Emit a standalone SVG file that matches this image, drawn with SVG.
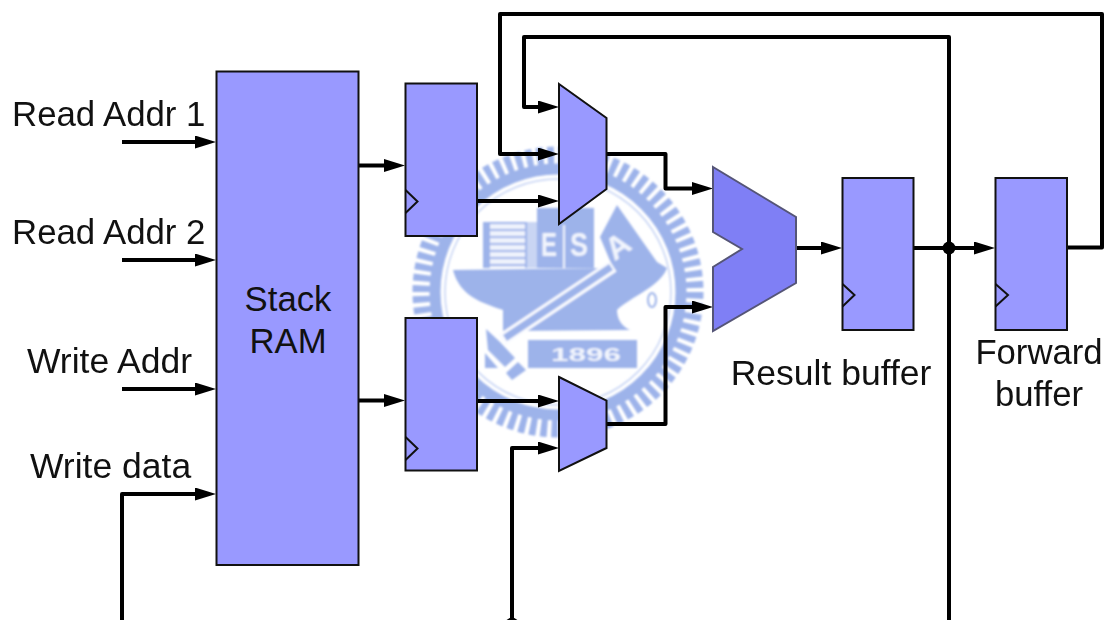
<svg xmlns="http://www.w3.org/2000/svg" width="1108" height="620" viewBox="0 0 1108 620">
<style>
text{font-family:"Liberation Sans",Arial,sans-serif;font-size:35.500px;fill:#111}
.r{font-size:34.800px}
.s{font-size:34.700px}
.box{fill:#9999ff;stroke:#111;stroke-width:2}
.clk{fill:none;stroke:#111;stroke-width:2}
.w{fill:none;stroke:#000;stroke-width:4;stroke-linejoin:round}
.a{marker-end:url(#ah)}
.wm{fill:#9db3ea}
</style>
<defs>
<marker id="ah" markerUnits="userSpaceOnUse" markerWidth="22" markerHeight="14" refX="13" refY="6.500" orient="auto"><path d="M0,0L21,6.500L0,13z" fill="#000"/></marker>
<filter id="soft" x="-5%" y="-5%" width="110%" height="110%"><feGaussianBlur stdDeviation="1"/></filter>
<filter id="soft2" x="-5%" y="-5%" width="110%" height="110%"><feGaussianBlur stdDeviation="0.5"/></filter>
</defs>
<rect width="1108" height="620" fill="#fff"/>
<g id="watermark" filter="url(#soft)">
<circle cx="558" cy="292" r="136" fill="none" stroke="#9db3ea" stroke-width="19" stroke-dasharray="6.500 4.180"/>
<circle cx="558" cy="292" r="123" fill="none" stroke="#9db3ea" stroke-width="11"/>
<circle cx="558" cy="292" r="113" fill="none" stroke="#c6d3f4" stroke-width="1.500"/>
<path class="wm" d="M453,270L613,268L600,237L617,205L657,262L667,268C660,287 630,297 617,310C617,320 623,327 630,330L503,331L503,310C483,303 460,297 453,270z"/>
<rect class="wm" x="483" y="222" width="44" height="46"/>
<rect x="490" y="224" width="35" height="44" fill="#eef2fc"/>
<g fill="#9db3ea"><rect x="490" y="229" width="35" height="2"/><rect x="490" y="236" width="35" height="2"/><rect x="490" y="243" width="35" height="2"/><rect x="490" y="250" width="35" height="2"/><rect x="490" y="257" width="35" height="2"/><rect x="490" y="264" width="35" height="2"/></g>
<rect class="wm" x="527" y="222" width="10" height="46" opacity=".55"/>
<rect class="wm" x="537" y="208" width="57" height="60"/>
<rect x="563" y="225" width="2" height="43" fill="#eef2fc"/>
<text x="549" y="256" text-anchor="middle" style="font-size:33px;fill:#f2f5fd;font-weight:bold" textLength="16" lengthAdjust="spacingAndGlyphs">E</text>
<text x="579" y="256" text-anchor="middle" style="font-size:33px;fill:#f2f5fd;font-weight:bold" textLength="18" lengthAdjust="spacingAndGlyphs">S</text>
<text transform="translate(624 255) rotate(-35)" text-anchor="middle" style="font-size:32px;fill:#f2f5fd;font-weight:bold">A</text>
<path d="M613,266L502,340" stroke="#fbfcff" stroke-width="13" fill="none"/>
<path d="M611,267L505,338" stroke="#9db3ea" stroke-width="7" fill="none"/>
<path class="wm" d="M486,329L500,342L515,358L505,367L488,350z"/>
<path class="wm" d="M485,353L498,368L485,368z"/>
<path class="wm" d="M518,362L526,370L512,380L506,373z"/>
<rect class="wm" x="528" y="340" width="109" height="28"/>
<text x="586" y="361" text-anchor="middle" style="font-size:19px;fill:#f2f5fd;font-weight:bold" textLength="70" lengthAdjust="spacingAndGlyphs">1896</text>
<ellipse cx="652" cy="300" rx="4" ry="7" fill="none" stroke="#9db3ea" stroke-width="2"/>
</g>
<g id="connectors">
<path class="w a" d="M122,142H208"/>
<path class="w a" d="M122,260H208"/>
<path class="w a" d="M122,389H208"/>
<path class="w a" d="M122,620V494H208"/>
<path class="w a" d="M358,165.500H397"/>
<path class="w a" d="M358,400.500H397"/>
<path class="w a" d="M1067,247.500H1102V14H500V154H551"/>
<path class="w a" d="M949,620V37H524V107H551"/>
<path class="w a" d="M477,201H551"/>
<path class="w a" d="M477,401H551"/>
<path class="w a" d="M512,620V448H551"/>
<path class="w a" d="M606,154H665.500V188.500H705"/>
<path class="w a" d="M606,424H665.500V307H705"/>
<path class="w a" d="M796,248H834"/>
<path class="w a" d="M913,248H987"/>
<circle cx="949" cy="248" r="6.500" fill="#000"/>
<circle cx="512" cy="623.500" r="6" fill="#000"/>
</g>
<g id="stack-ram"><rect class="box" x="216.500" y="71.500" width="142" height="493.500"/><text class="s" x="288" y="311" text-anchor="middle">Stack</text><text class="s" x="288" y="353" text-anchor="middle">RAM</text></g>
<g id="reg-top"><rect class="box" x="405.500" y="83.500" width="71.500" height="152.500"/><path class="clk" d="M405.500,190L417.500,201.500L405.500,213"/></g>
<g id="reg-bottom"><rect class="box" x="405.500" y="318" width="71.500" height="152.500"/><path class="clk" d="M405.500,437L417.500,448.500L405.500,460"/></g>
<g id="mux-top"><path class="box" d="M559,84L606.500,118V189L559,224z"/></g>
<g id="mux-bottom"><path class="box" d="M559,377L606.500,400.500V448L559,471z"/></g>
<g id="alu"><path d="M713,167L796,217V283L713,331V267L742,249L713,232z" fill="#7f7ff5" stroke="#555577" stroke-width="2" filter="url(#soft2)"/></g>
<g id="result-buffer"><rect class="box" x="842.500" y="178" width="71" height="152"/><path class="clk" d="M842.500,284L854.500,295L842.500,306.500"/><text x="831" y="385" text-anchor="middle">Result buffer</text></g>
<g id="forward-buffer"><rect class="box" x="995.500" y="178" width="71.500" height="152"/><path class="clk" d="M995.500,284L1008,295L995.500,306.500"/><text class="s" x="1039" y="364" text-anchor="middle">Forward</text><text class="s" x="1039" y="406" text-anchor="middle">buffer</text></g>
<g id="labels"><text class="r" x="12" y="126">Read Addr 1</text><text class="r" x="12" y="244">Read Addr 2</text><text x="27" y="373">Write Addr</text><text x="30" y="478">Write data</text></g>
</svg>
